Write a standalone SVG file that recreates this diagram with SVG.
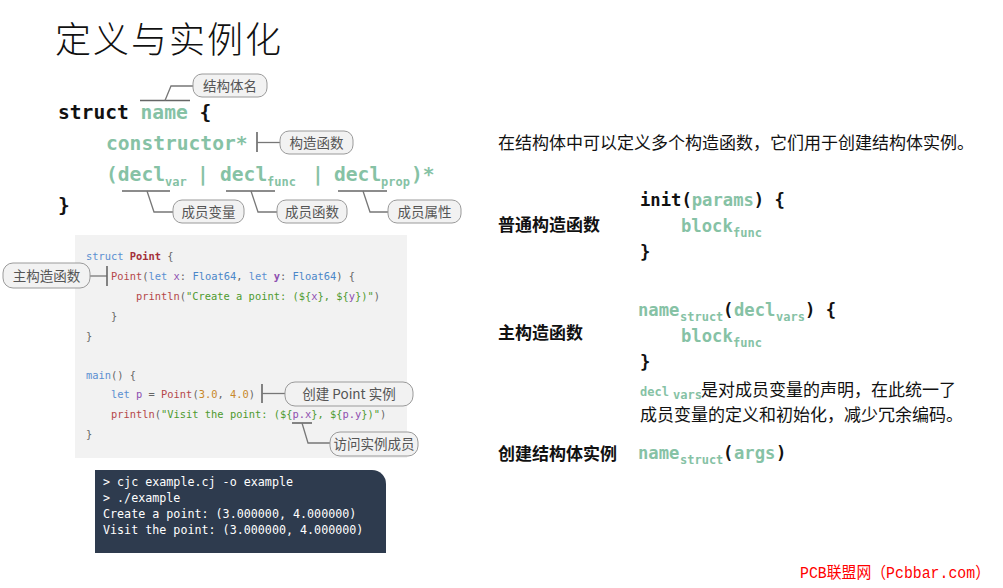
<svg xmlns="http://www.w3.org/2000/svg" width="1003" height="588" viewBox="0 0 1003 588">
<style>
.title{font-family:"Noto Sans CJK SC",sans-serif;font-size:36px;font-weight:300;fill:#111;letter-spacing:2px}
.syn{font-family:"DejaVu Sans Mono","Liberation Mono",monospace;font-weight:bold;font-size:19.6px;fill:#111}
.syn2{font-family:"DejaVu Sans Mono","Liberation Mono",monospace;font-weight:bold;font-size:17.2px;fill:#111}
.sub{font-family:"DejaVu Sans Mono","Liberation Mono",monospace;font-weight:bold;font-size:12px}
.g{fill:#86c2a5}
.box{fill:#f2f2f2;stroke:#9a9a9a;stroke-width:1}
.lbl{font-family:"Noto Sans CJK SC",sans-serif;font-size:13.5px;fill:#555;text-anchor:middle}
.ln{fill:none;stroke:#777;stroke-width:1.3}
.ul{fill:none;stroke:#666;stroke-width:1.6}
.code{font-family:"DejaVu Sans Mono","Liberation Mono",monospace;font-size:10.4px;fill:#666}
.kw{fill:#5a8fd1}.ty{fill:#4a86c8}.pt{fill:#a3303a;font-weight:bold}.fn{fill:#b5484a}.vr{fill:#8e4fb0}.st{fill:#4e9a2e}.nm{fill:#c8882a}
.term{font-family:"DejaVu Sans Mono","Liberation Mono",monospace;font-size:11.7px;fill:#ffffff}
.body{font-family:"Noto Sans CJK SC",sans-serif;font-size:17px;fill:#111}
.hd{font-family:"Noto Sans CJK SC",sans-serif;font-size:17px;font-weight:bold;fill:#111}
.wm{font-family:"Liberation Mono","Noto Sans CJK SC",monospace;font-size:16px;fill:#ff0000}
</style>
<rect width="1003" height="588" fill="#ffffff"/>

<g id="title"><text class="title" x="55" y="53">定义与实例化</text></g>

<g id="syntax">
<text class="syn" x="58" y="119" xml:space="preserve">struct <tspan class="g">name</tspan> {</text>
<text class="syn g" x="106" y="150">constructor*</text>
<text class="syn g" x="106" y="181">(decl</text>
<text class="sub g" x="165" y="186">var</text>
<text class="syn g" x="197" y="181">|</text>
<text class="syn g" x="220" y="181">decl</text>
<text class="sub g" x="267" y="186">func</text>
<text class="syn g" x="312" y="181">|</text>
<text class="syn g" x="334" y="181">decl</text>
<text class="sub g" x="381" y="186">prop</text>
<text class="syn g" x="411" y="181">)*</text>
<text class="syn" x="58" y="212">}</text>
</g>

<g id="code">
<rect x="75" y="235" width="332" height="223" fill="#f2f2f2"/>
<text class="code" x="86" y="260" xml:space="preserve"><tspan class="kw">struct</tspan> <tspan class="pt">Point</tspan> {</text>
<text class="code" x="111" y="280" xml:space="preserve"><tspan class="fn">Point</tspan>(<tspan class="kw">let</tspan> <tspan class="vr">x</tspan>: <tspan class="ty">Float64</tspan>, <tspan class="kw">let</tspan> <tspan class="vr" font-weight="bold">y</tspan>: <tspan class="ty">Float64</tspan>) {</text>
<text class="code" x="136" y="300" xml:space="preserve"><tspan class="fn">println</tspan>(<tspan class="st">"Create a point: (${</tspan><tspan class="vr">x</tspan><tspan class="st">}, ${</tspan><tspan class="vr">y</tspan><tspan class="st">})"</tspan>)</text>
<text class="code" x="111" y="320">}</text>
<text class="code" x="86" y="340">}</text>
<text class="code" x="86" y="379" xml:space="preserve"><tspan class="kw">main</tspan>() {</text>
<text class="code" x="111" y="398" xml:space="preserve"><tspan class="kw">let</tspan> <tspan class="vr">p</tspan> = <tspan class="fn">Point</tspan>(<tspan class="nm">3.0</tspan>, <tspan class="nm">4.0</tspan>)</text>
<text class="code" x="111" y="418" xml:space="preserve"><tspan class="fn">println</tspan>(<tspan class="st">"Visit the point: (${</tspan><tspan class="vr">p.x</tspan><tspan class="st">}, ${</tspan><tspan class="vr">p.y</tspan><tspan class="st">})"</tspan>)</text>
<text class="code" x="86" y="438">}</text>
</g>

<g id="connectors">
<path class="ul" d="M140,100.5 H190"/>
<path class="ln" d="M165,100.5 L171,86 H193"/>
<path class="ul" d="M257,132 V152"/>
<path class="ln" d="M257,142.5 H280"/>
<path class="ul" d="M122,191 H170"/>
<path class="ln" d="M147,191 L154,212 H173"/>
<path class="ul" d="M226,191 H275"/>
<path class="ln" d="M251,191 L258,212 H277"/>
<path class="ul" d="M338,191 H387"/>
<path class="ln" d="M363,191 L370,212 H388"/>
<path class="ln" d="M90,276 H107"/>
<path class="ul" d="M107,266 V286"/>
<path class="ul" d="M262,384 V403"/>
<path class="ln" d="M262,393.5 H285"/>
<path class="ul" d="M292,423 H312"/>
<path class="ln" d="M302,423 L308,443 H330"/>
</g>

<g id="callout-name"><rect class="box" x="193" y="74" width="74" height="23" rx="9"/><text class="lbl" x="230" y="90.5">结构体名</text></g>
<g id="callout-ctor"><rect class="box" x="280" y="131" width="73" height="23" rx="9"/><text class="lbl" x="316.5" y="147.5">构造函数</text></g>
<g id="callout-var"><rect class="box" x="173" y="200" width="71" height="23" rx="9"/><text class="lbl" x="208.5" y="216.5">成员变量</text></g>
<g id="callout-func"><rect class="box" x="277" y="200" width="70" height="23" rx="9"/><text class="lbl" x="312" y="216.5">成员函数</text></g>
<g id="callout-prop"><rect class="box" x="388" y="200" width="73" height="23" rx="9"/><text class="lbl" x="424.5" y="216.5">成员属性</text></g>
<g id="callout-primary"><rect class="box" x="3" y="263" width="87" height="25" rx="10"/><text class="lbl" x="46.5" y="280.5">主构造函数</text></g>
<g id="callout-create"><rect class="box" x="285" y="382" width="128" height="24" rx="10"/><text class="lbl" x="349" y="398.5" xml:space="preserve">创建 Point 实例</text></g>
<g id="callout-access"><rect class="box" x="330" y="432" width="88" height="24" rx="10"/><text class="lbl" x="374" y="448.5">访问实例成员</text></g>

<g id="terminal">
<path d="M95,470 H372 A14,14 0 0 1 386,484 V553 H95 Z" fill="#2e3b4e"/>
<text class="term" x="103" y="486" xml:space="preserve">&gt; cjc example.cj -o example</text>
<text class="term" x="103" y="502" xml:space="preserve">&gt; ./example</text>
<text class="term" x="103" y="518" xml:space="preserve">Create a point: (3.000000, 4.000000)</text>
<text class="term" x="103" y="534" xml:space="preserve">Visit the point: (3.000000, 4.000000)</text>
</g>

<g id="intro"><text class="body" x="498" y="149">在结构体中可以定义多个构造函数，它们用于创建结构体实例。</text></g>

<g id="normal-ctor">
<text class="hd" x="498" y="231">普通构造函数</text>
<text class="syn2" x="640" y="206" xml:space="preserve">init(<tspan class="g">params</tspan>) {</text>
<text class="syn2 g" x="681" y="232">block</text>
<text class="sub g" x="733" y="237" font-size="11.5">func</text>
<text class="syn2" x="640" y="258">}</text>
</g>

<g id="primary-ctor">
<text class="hd" x="498" y="339">主构造函数</text>
<text class="syn2 g" x="638" y="316">name</text>
<text class="sub g" x="680" y="321">struct</text>
<text class="syn2" x="723" y="316">(</text>
<text class="syn2 g" x="734" y="316">decl</text>
<text class="sub g" x="776" y="321">vars</text>
<text class="syn2" x="805" y="316" xml:space="preserve">) {</text>
<text class="syn2 g" x="681" y="342">block</text>
<text class="sub g" x="733" y="347" font-size="11.5">func</text>
<text class="syn2" x="640" y="368">}</text>
<text class="body" y="396"><tspan class="sub g" x="640" font-size="13">decl</tspan><tspan class="sub g" x="673" dy="3" font-size="10.5">vars</tspan><tspan x="701" dy="-3">是对成员变量的声明，在此统一了</tspan></text>
<text class="body" x="640" y="421">成员变量的定义和初始化，减少冗余编码。</text>
</g>

<g id="create-instance">
<text class="hd" x="498" y="460">创建结构体实例</text>
<text class="syn2 g" x="638" y="459">name</text>
<text class="sub g" x="680" y="464">struct</text>
<text class="syn2" x="723" y="459">(</text>
<text class="syn2 g" x="734" y="459">args</text>
<text class="syn2" x="776" y="459">)</text>
</g>

<g id="watermark"><text class="wm" x="800" y="578" textLength="190" lengthAdjust="spacingAndGlyphs">PCB联盟网（Pcbbar.com）</text></g>
</svg>
